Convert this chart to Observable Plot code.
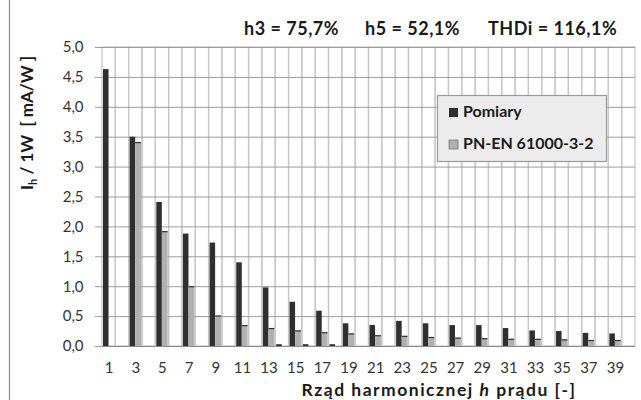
<!DOCTYPE html>
<html>
<head>
<meta charset="utf-8">
<script src="https://cdn.jsdelivr.net/npm/d3@7"></script>
<script src="https://cdn.jsdelivr.net/npm/@observablehq/plot@0.6"></script>
<style>
  html, body { margin: 0; padding: 0; background: #fff; }
  #chart { position: relative; width: 641px; height: 400px; }
</style>
</head>
<body>
<div id="chart"></div>
<script>
// Harmonic orders (categories)
const harmonics = [1,2,3,4,5,6,7,8,9,10,11,12,13,14,15,16,17,18,19,20,21,22,23,24,25,26,27,28,29,30,31,32,33,34,35,36,37,38,39,40];
// Measured values [mA/W]
const pomiary = [4.63,0,3.50,0,2.41,0,1.88,0,1.73,0,1.40,0,0.98,0.03,0.74,0.03,0.59,0.03,0.38,0,0.35,0,0.42,0,0.38,0,0.35,0,0.35,0,0.30,0,0.26,0,0.25,0,0.22,0,0.21,0];
// PN-EN 61000-3-2 limits [mA/W]
const norma = [null,null,3.41,null,1.92,null,1.00,null,0.51,null,0.35,null,0.30,null,0.26,null,0.23,null,0.21,null,0.18,null,0.17,null,0.15,null,0.14,null,0.13,null,0.12,null,0.12,null,0.11,null,0.10,null,0.10,null];
const seriesNames = ["Pomiary", "PN-EN 61000-3-2"];
const yTicks = [0,0.5,1,1.5,2,2.5,3,3.5,4,4.5,5];
const xTickLabels = [1,3,5,7,9,11,13,15,17,19,21,23,25,27,29,31,33,35,37,39];
const titleParts = ["h3 = 75,7%", "h5 = 52,1%", "THDi = 116,1%"];

const rowsP = harmonics.map((h, i) => ({h, v: pomiary[i], s: seriesNames[0]}));
const rowsN = harmonics.map((h, i) => ({h, v: norma[i], s: seriesNames[1]})).filter(d => d.v != null);

const fmt = d => d.toFixed(1).replace(".", ",");
const FONT = "Lato, 'Open Sans', sans-serif";

const plot = Plot.plot({
  width: 641,
  height: 400,
  marginLeft: 102,
  marginRight: 6,
  marginTop: 47,
  marginBottom: 54,
  style: {fontFamily: FONT, fontSize: "15px", color: "#333", background: "white", overflow: "visible"},
  x: {type: "band", domain: harmonics, padding: 0, round: false, axis: null},
  y: {domain: [0, 5], axis: null},
  marks: [
    // vertical gridlines at category boundaries
    Plot.barY(harmonics, {x: d => d, y1: 0, y2: 5, fill: "none", stroke: "#c8c8c8", strokeWidth: 1.3}),
    // horizontal gridlines
    Plot.ruleY(yTicks, {stroke: "#9c9c9c", strokeWidth: 1}),
    Plot.axisY({ticks: yTicks, tickSize: 7, tickPadding: 12, tickFormat: fmt, label: null, stroke: "#9c9c9c", fill: "#333", fontSize: 15}),
    Plot.axisX({ticks: xTickLabels, tickSize: 0, tickPadding: 16, label: null, fill: "#333", fontSize: 15}),
    // bars
    Plot.barY(rowsP, {x: "h", y: "v", fill: "#2f2f2f", insetLeft: 1, insetRight: 6.8}),
    Plot.barY(rowsN, {x: "h", y: "v", fill: "#b0b0b0", insetLeft: 6.6, insetRight: 1}),
    Plot.tickY(rowsN, {x: "h", y: "v", stroke: "#2f2f2f", strokeWidth: 1.2, insetLeft: 6.6, insetRight: 1}),
    Plot.ruleY([0], {stroke: "#8a8a8a"})
  ]
});

document.getElementById("chart").appendChild(plot);

const svg = d3.select(plot);

// left frame line
svg.append("line").attr("x1", 9.5).attr("x2", 9.5).attr("y1", 0).attr("y2", 400)
  .attr("stroke", "#8a8a8a").attr("stroke-width", 1.2);

// title
const titleX = [244, 365, 488];
titleParts.forEach((t, i) => {
  svg.append("text").attr("x", titleX[i]).attr("y", 35).attr("text-anchor", "start")
    .attr("font-family", FONT).attr("font-weight", "bold").attr("font-size", 18)
    .attr("letter-spacing", 0.5)
    .attr("fill", "#1a1a1a").text(t);
});

// y label with subscript
const yl = svg.append("text")
  .attr("transform", "translate(33,123) rotate(-90)")
  .attr("text-anchor", "middle")
  .attr("font-family", FONT).attr("font-weight", "bold").attr("font-size", 17)
  .attr("fill", "#1a1a1a");
yl.append("tspan").text("I");
yl.append("tspan").attr("font-size", 11).attr("dy", 4).text("h");
yl.append("tspan").attr("dy", -4).text(" / 1W  [ mA/W ]");

// x label with italic h
const xl = svg.append("text")
  .attr("x", 439).attr("y", 396).attr("text-anchor", "middle")
  .attr("font-family", FONT).attr("font-weight", "bold").attr("font-size", 17.5)
  .attr("letter-spacing", 1.5)
  .attr("fill", "#1a1a1a");
xl.append("tspan").text("Rząd harmonicznej ");
xl.append("tspan").attr("font-style", "italic").text("h");
xl.append("tspan").text(" prądu [-]");

// legend
const lg = svg.append("g");
lg.append("rect").attr("x", 437.5).attr("y", 95.5).attr("width", 169).attr("height", 66)
  .attr("fill", "#ececec").attr("stroke", "#9a9a9a").attr("stroke-width", 1.2);
const legendColors = ["#2f2f2f", "#b0b0b0"];
const legendY = [117, 149];
seriesNames.forEach((name, i) => {
  lg.append("rect").attr("x", 449).attr("y", legendY[i] - 9).attr("width", 9).attr("height", 9)
    .attr("fill", legendColors[i]).attr("stroke", i ? "#777" : "none").attr("stroke-width", 0.8);
  lg.append("text").attr("x", 463).attr("y", legendY[i]).attr("text-anchor", "start")
    .attr("font-family", FONT).attr("font-weight", "bold").attr("font-size", 16)
    .attr("fill", "#1a1a1a").text(name);
});
</script>
</body>
</html>
